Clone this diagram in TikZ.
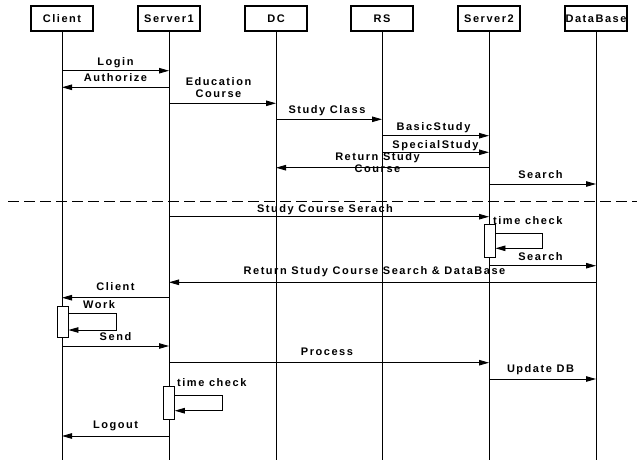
\documentclass[tikz,border=0pt]{standalone}
\usepackage{fontspec}
\setmainfont{Liberation Sans}[LetterSpace=14]
\usetikzlibrary{arrows.meta,positioning}

\begin{document}
\begin{tikzpicture}[x=1pt, y=-1pt,
    actor/.style={draw, line width=1.1pt, minimum width=62pt, minimum height=25pt, inner sep=0pt},
    life/.style={line width=1pt},
    msg/.style={line width=0.9pt, -{Triangle[length=10pt, width=5.5pt]}},
    lbl/.style={anchor=base, yshift=5.5pt, inner sep=0pt, align=center},
    act/.style={draw, fill=white, line width=0.9pt, minimum width=11pt, inner sep=0pt},
    sep/.style={line width=0.9pt, dash pattern=on 11pt off 5pt},
    every node/.style={font=\fontsize{11}{12}\selectfont\bfseries}]
  \useasboundingbox (0,0) rectangle (637,461);

  % Lifelines
  \foreach \n/\x/\t in {client/62/Client, server1/169/Server1, dc/276/DC,
                        rs/382/RS, server2/489/Server2, db/596/DataBase} {
    \node[actor] (\n) at (\x,18.5) {\t};
    \coordinate (\n-end) at (\x,460);
    \draw[life] (\n) -- (\n-end);
  }

  % Separator
  \coordinate (sep-l) at (8,201);
  \coordinate (sep-r) at (637,201);
  \draw[sep] (sep-l) -- (sep-r);

  % Activation boxes
  \node[act, minimum height=33pt] (a1) at (489.5,240.8) {};
  \node[act, minimum height=31.7pt] (a2) at (62.5,321.8) {};
  \node[act, minimum height=32.7pt] (a3) at (168.8,403) {};

  % Messages (from/to/y/label/dx/dy)
  \foreach \a/\b/\y/\t/\dx/\dy [count=\i] in {
      client/server1/70.7/Login/0/0,
      server1/client/87.3/Authorize/0/0,
      server1/dc/103.3/{Education\\Course}/-4/0.8,
      dc/rs/119.3/Study Class/-2/0,
      rs/server2/135.7/BasicStudy/-2/0,
      rs/server2/152.3/SpecialStudy/0/-2,
      server2/dc/167.7/{Return Study\\Course}/-5/-10.1,
      server2/db/184/Search/-2/0,
      server1/server2/216.7/Study Course Serach/-4/-1,
      server2/db/265.7/Search/-2/0,
      db/server1/282.3/Return Study Course Search \& DataBase/-8/2,
      server1/client/297.7/Client/0/2,
      client/server1/346/Send/0/0,
      server1/server2/362.7/Process/-2/2,
      server2/db/379/Update DB/-2/1,
      server1/client/436/Logout/0/2} {
    \coordinate (m\i a) at (\a |- 0,\y);
    \coordinate (m\i b) at (\b |- 0,\y);
    \draw[msg] (m\i a) -- node[lbl, xshift=\dx pt, yshift=\dy pt] (t\i) {\t} (m\i b);
  }

  % Self calls
  \coordinate (a1-out) at (542.7,233.3);
  \coordinate (a1-back) at (542.7,248.3);
  \draw[msg] (a1.east |- a1-out) -- (a1-out) -- (a1-back) -- (a1.east |- a1-back);
  \node[anchor=base west, inner sep=0pt, xshift=3.5pt, yshift=-0.5pt] (tc1) at (a1.north) {time check};

  \coordinate (a2-out) at (116,313.3);
  \coordinate (a2-back) at (116,330);
  \draw[msg] (a2.east |- a2-out) -- (a2-out) -- (a2-back) -- (a2.east |- a2-back);
  \node[anchor=base west, inner sep=0pt, xshift=20.5pt, yshift=-3.3pt] (work) at (a2.north) {Work};

  \coordinate (a3-out) at (222.7,395.7);
  \coordinate (a3-back) at (222.7,410.7);
  \draw[msg] (a3.east |- a3-out) -- (a3-out) -- (a3-back) -- (a3.east |- a3-back);
  \node[anchor=base west, inner sep=0pt, xshift=8.2pt, yshift=-0.5pt] (tc2) at (a3.north) {time check};
\end{tikzpicture}
\end{document}
